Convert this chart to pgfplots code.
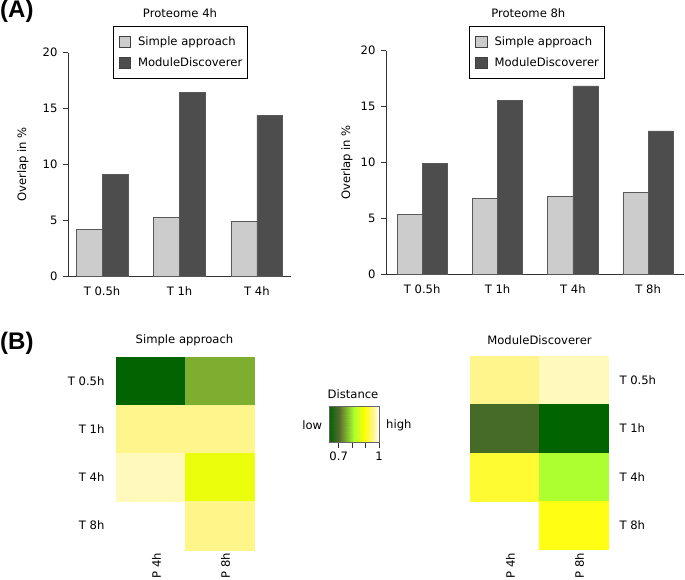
\documentclass[border=0pt]{standalone}
\usepackage{pgfplots}
\pgfplotsset{compat=1.18}
\usepackage{fontspec}
\setmainfont{DejaVu Sans}
\newfontfamily\labfont{Liberation Sans}
\newcommand{\fs}{\fontsize{11.6pt}{13.9pt}\selectfont}
\definecolor{lightbar}{RGB}{204,204,204}
\definecolor{darkbar}{RGB}{77,77,77}
\pgfplotsset{
  /pgf/number format/assume math mode=true,
  colormap={dist}{rgb255(0cm)=(0,100,0) rgb255(2cm)=(85,107,47) rgb255(5cm)=(173,255,47) rgb255(7cm)=(255,255,0) rgb255(8.7cm)=(255,245,140) rgb255(10cm)=(255,255,255)},
  barA/.style={ybar, bar width=1, bar shift=0pt, fill=lightbar, draw=black!65, line width=0.6pt,
    legend image code/.code={\draw[fill=lightbar,draw=black!75,line width=0.6pt] (0pt,-5.7pt) rectangle (11.4pt,5.7pt);}},
  barB/.style={ybar, bar width=1, bar shift=0pt, fill=darkbar, draw=black!65, line width=0.6pt,
    legend image code/.code={\draw[fill=darkbar,draw=black!75,line width=0.6pt] (0pt,-5.7pt) rectangle (11.4pt,5.7pt);}},
  barax/.style={scale only axis, anchor=south west, axis lines=left,
    axis line style={-, black!80, line width=0.8pt},
    ymin=0, ymax=20, ytick={0,5,10,15,20}, tick align=outside, major tick length=5pt,
    ytick style={black!80, line width=0.8pt}, xtick style={draw=none},
    tick label style={font=\fs}, yticklabel style={xshift=-2pt}, xticklabel style={yshift=-2pt},
    legend cell align=left,
    legend style={anchor=north, draw=black, line width=0.8pt, fill=white,
      inner xsep=5.5pt, inner ysep=9.5pt, row sep=9pt, font=\fs,
      nodes={inner sep=0pt},
      /tikz/every odd column/.append style={column sep=7.5pt}},
    clip=false},
  heat/.style={scale only axis, anchor=south west, width=138pt, height=193pt,
    xmin=0.5, xmax=2.5, ymin=0.5, ymax=4.5,
    axis line style={draw=none}, tick style={draw=none}, major tick length=0pt,
    xtick={1,2}, xticklabels={P 4h, P 8h},
    ytick={1,2,3,4}, yticklabels={T 8h, T 4h, T 1h, T 0.5h},
    tick label style={font=\fs},
    xticklabel style={rotate=90, anchor=east, yshift=-6pt},
    colormap name=dist, point meta min=0.628, point meta max=1, clip=false}
}
\begin{document}
\begin{tikzpicture}
% ---------------- Panel A, left
\begin{axis}[barax, at={(68pt,-276.3pt)}, width=223pt, height=223.6pt,
  xmin=0.68, xmax=9.32, xtick={2,5,8}, xticklabels={T 0.5h, T 1h, T 4h},
  legend style={at={(0.504,1.121)}}]
\addplot[barA] coordinates {(1.5,4.2) (4.5,5.28) (7.5,4.92)};
\addplot[barB] coordinates {(2.5,9.1) (5.5,16.48) (8.5,14.4)};
\legend{Simple approach, ModuleDiscoverer}
\end{axis}
% ---------------- Panel A, right
\begin{axis}[barax, at={(386pt,-274pt)}, width=298.4pt, height=223.3pt,
  xmin=0.56, xmax=12.44, xtick={2,5,8,11}, xticklabels={T 0.5h, T 1h, T 4h, T 8h},
  legend style={at={(0.506,1.112)}}]
\addplot[barA] coordinates {(1.5,5.35) (4.5,6.8) (7.5,6.93) (10.5,7.31)};
\addplot[barB] coordinates {(2.5,9.91) (5.5,15.52) (8.5,16.84) (11.5,12.81)};
\legend{Simple approach, ModuleDiscoverer}
\end{axis}
% ---------------- Panel B, left heatmap
\begin{axis}[heat, at={(116pt,-549.7pt)}, yticklabel style={xshift=-8pt}]
\addplot[patch, patch type=rectangle, shader=flat, point meta=\thisrow{c}] table {
x y c
0.5 3.5 0.63
1.5 3.5 0.63
1.5 4.5 0.63
0.5 4.5 0.63
1.5 3.5 0.753
2.5 3.5 0.753
2.5 4.5 0.753
1.5 4.5 0.753
0.5 2.5 0.952
1.5 2.5 0.952
1.5 3.5 0.952
0.5 3.5 0.952
1.5 2.5 0.952
2.5 2.5 0.952
2.5 3.5 0.952
1.5 3.5 0.952
0.5 1.5 0.972
1.5 1.5 0.972
1.5 2.5 0.972
0.5 2.5 0.972
1.5 1.5 0.87
2.5 1.5 0.87
2.5 2.5 0.87
1.5 2.5 0.87
1.5 0.5 0.95
2.5 0.5 0.95
2.5 1.5 0.95
1.5 1.5 0.95
};
\end{axis}
% ---------------- Panel B, right heatmap
\begin{axis}[heat, at={(470pt,-549.2pt)}, yticklabel pos=right, yticklabel style={xshift=8pt}]
\addplot[patch, patch type=rectangle, shader=flat, point meta=\thisrow{c}] table {
x y c
0.5 3.5 0.952
1.5 3.5 0.952
1.5 4.5 0.952
0.5 4.5 0.952
1.5 3.5 0.972
2.5 3.5 0.972
2.5 4.5 0.972
1.5 4.5 0.972
0.5 2.5 0.689
1.5 2.5 0.689
1.5 3.5 0.689
0.5 3.5 0.689
1.5 2.5 0.63
2.5 2.5 0.63
2.5 3.5 0.63
1.5 3.5 0.63
0.5 1.5 0.911
1.5 1.5 0.911
1.5 2.5 0.911
0.5 2.5 0.911
1.5 1.5 0.814
2.5 1.5 0.814
2.5 2.5 0.814
1.5 2.5 0.814
1.5 0.5 0.897
2.5 0.5 0.897
2.5 1.5 0.897
1.5 1.5 0.897
};
\end{axis}
% ---------------- colour key (scale from the colormap stops)
\begin{axis}[scale only axis, anchor=south west, at={(329pt,-442.7pt)}, width=50pt, height=36pt,
  xmin=0.628, xmax=1, ymin=0, ymax=1, ytick=\empty,
  xtick={0.7,0.8,0.9,1}, xticklabels={0.7,,,1},
  tick align=outside, major tick length=5pt, xtick pos=lower,
  axis on top, axis line style={draw=black!60, line width=0.6pt},
  xtick style={black!80, line width=0.6pt},
  tick label style={font=\fs}, xticklabel style={yshift=-1pt},
  colormap name=dist, point meta min=0.628, point meta max=1]
\addplot[patch, patch type=rectangle, shader=interp, point meta=\thisrow{c}] table {
x y c
0.628 0 0.628
0.7024 0 0.7024
0.7024 1 0.7024
0.628 1 0.628
0.7024 0 0.7024
0.814 0 0.814
0.814 1 0.814
0.7024 1 0.7024
0.814 0 0.814
0.8884 0 0.8884
0.8884 1 0.8884
0.814 1 0.814
0.8884 0 0.8884
0.9516 0 0.9516
0.9516 1 0.9516
0.8884 1 0.8884
0.9516 0 0.9516
1 0 1
1 1 1
0.9516 1 0.9516
};
\end{axis}
% ---------------- texts
\node[anchor=north west, inner sep=0pt, font=\labfont\bfseries\fontsize{24pt}{28pt}\selectfont] at (0pt,0pt) {(A)};
\node[anchor=north west, inner sep=0pt, font=\labfont\bfseries\fontsize{24pt}{28pt}\selectfont] at (0pt,-331.5pt) {(B)};
\node[font=\fs] at (180pt,-13pt) {Proteome 4h};
\node[font=\fs] at (528.3pt,-13pt) {Proteome 8h};
\node[font=\fs, rotate=90] at (23pt,-164.5pt) {Overlap in \%};
\node[font=\fs, rotate=90] at (347pt,-162.5pt) {Overlap in \%};
\node[font=\fs] at (184.5pt,-340pt) {Simple approach};
\node[font=\fs] at (539.5pt,-340pt) {ModuleDiscoverer};
\node[font=\fs] at (353pt,-394pt) {Distance};
\node[font=\fs, anchor=east, inner sep=0pt] at (322.3pt,-425pt) {low};
\node[font=\fs, anchor=west, inner sep=0pt] at (386pt,-425pt) {high};
\pgfresetboundingbox
\path[use as bounding box] (0pt,0pt) rectangle (685pt,-580pt);
\end{tikzpicture}
\end{document}
